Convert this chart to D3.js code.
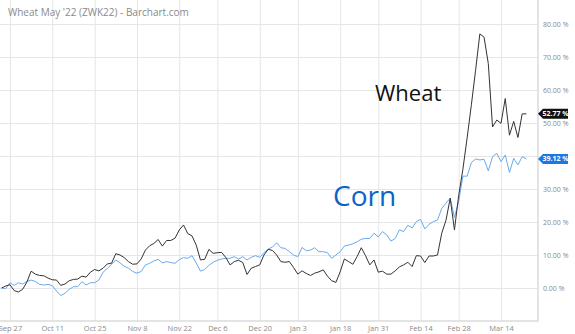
<!DOCTYPE html>
<html>
<head>
<meta charset="utf-8">
<script src="https://cdn.jsdelivr.net/npm/d3@7"></script>
<style>
body { margin: 0; background: #fff; }
svg { display: block; font-family: "Open Sans", sans-serif; }
</style>
</head>
<body>
<script>
var width = 575, height = 334;

// % change since Sep 23, one value per trading day
var wheat = [
  0, 0.6, 1.0, -0.8, -1.2, -0.4, 1.8, 5.1, 4.2, 3.8,
  3.7, 3.0, 2.5, 2.4, 0.8, 1.2, 2.2, 2.6, 2.7, 3.6,
  3.3, 4.8, 5.6, 5.2, 6.0, 7.3, 7.5, 10.4, 10.0, 9.2,
  8.0, 7.2, 7.3, 8.8, 11.5, 12.8, 13.5, 14.7, 12.7, 14.4,
  14.4, 15.1, 17.6, 19.1, 16.5, 15.8, 13.0, 8.5, 8.7, 11.7,
  10.5, 10.7, 10.8, 9.2, 7.0, 8.0, 8.4, 7.7, 4.1, 6.0,
  6.5, 7.0, 10.0, 11.7, 11.4, 10.0, 8.0, 7.8, 8.0, 6.2,
  4.2, 5.2, 4.4, 3.8, 4.5, 4.9, 5.5, 3.6, 2.2, 1.7,
  4.9, 8.8, 8.0, 7.2, 9.5, 12.2, 9.8, 7.0, 8.5, 4.8,
  5.1, 4.2, 4.2, 5.2, 6.4, 7.0, 7.8, 6.5, 9.8, 9.7,
  7.7, 9.7, 9.7, 10.0, 16.6, 20.5, 27.2, 17.6, 28.0, 36.0,
  45.5, 55.5, 66.0, 77.0, 76.0, 68.0, 48.8, 50.9, 49.9, 57.4,
  46.3, 50.5, 45.6, 52.77, 52.77
];
var corn = [
  0, -0.2, 1.6, 0.8, 1.6, 1.2, 2.0, 2.4, 2.0, 1.1,
  0.9, 1.1, 0.7, -0.9, -2.3, -1.6, -0.4, 0.4, 0.4, 1.9,
  0.9, 1.6, 1.6, 2.4, 4.8, 5.9, 7.2, 8.5, 7.6, 6.6,
  6.0, 5.0, 4.5, 5.0, 7.0, 7.5, 8.2, 8.7, 7.6, 8.0,
  7.7, 7.5, 8.6, 9.2, 9.0, 9.8, 7.6, 5.1, 5.6, 6.9,
  7.8, 8.4, 8.8, 9.0, 9.0, 9.5, 8.8, 9.5, 8.5, 9.3,
  9.8, 9.3, 10.7, 11.8, 12.4, 13.7, 12.2, 12.0, 11.0, 10.0,
  9.5, 12.3, 11.3, 11.5, 12.2, 11.0, 11.0, 10.7, 9.0, 10.0,
  11.0, 12.7, 13.0, 13.4, 14.0, 14.8, 15.0, 15.0, 16.6, 15.5,
  17.1, 16.1, 14.2, 15.0, 17.6, 17.1, 19.0, 18.2, 20.1, 20.8,
  17.9, 19.3, 20.1, 20.6, 24.1, 25.7, 27.2, 21.4, 26.2, 33.9,
  33.9, 38.0, 39.1, 38.8, 39.0, 35.5, 39.8, 40.8, 38.3, 40.3,
  35.0, 39.3, 37.3, 39.8, 39.12
];
var dateLabels = ["Sep 27", "Oct 11", "Oct 25", "Nov 8", "Nov 22", "Dec 6", "Dec 20",
                  "Jan 3", "Jan 18", "Jan 31", "Feb 14", "Feb 28", "Mar 14"];
var dateIndex = [2, 12, 22, 32, 42, 51, 61, 70, 80, 89, 99, 108, 118];
var yTicks = [0, 10, 20, 30, 40, 50, 60, 70, 80];

var plotRight = 538, plotBottom = 321;

var svg = d3.select("body")
    .append("svg")
    .attr("width", width)
    .attr("height", height);

var x = d3.scaleLinear().domain([0, wheat.length - 1]).range([1.5, 526.4]);
var y = d3.scaleLinear().domain([0, 80]).range([288, 24]);

var lastWheat = wheat[wheat.length - 1];
var lastCorn = corn[corn.length - 1];

// grid
var gx = svg.append("g")
    .attr("transform", `translate(0,${plotBottom})`)
    .call(d3.axisBottom(x)
        .tickValues(dateIndex)
        .tickSize(-plotBottom)
        .tickPadding(5)
        .tickFormat((d, i) => dateLabels[i]));
gx.select(".domain").remove();
gx.selectAll("line").attr("stroke", "#e6e6e6");
gx.selectAll("text").attr("fill", "#8a8a8a").style("font-size", "7.5px").style("font-family", "Open Sans");

var gy = svg.append("g")
    .attr("transform", `translate(${plotRight},0)`)
    .call(d3.axisRight(y)
        .tickValues(yTicks)
        .tickSize(-plotRight)
        .tickPadding(5)
        .tickFormat(d => d.toFixed(2) + " %"));
gy.select(".domain").remove();
gy.selectAll("line").attr("stroke", "#e6e6e6");
gy.selectAll("text").attr("fill", "#8a8a8a").style("font-size", "7px").style("font-family", "Open Sans");
// labels hidden behind the last-value badges
gy.selectAll(".tick")
    .filter(d => Math.abs(y(d) - y(lastWheat)) < 7 || Math.abs(y(d) - y(lastCorn)) < 7)
    .select("text").remove();

// frame
svg.append("path")
    .attr("d", `M${plotRight},0V${plotBottom}H0`)
    .attr("fill", "none")
    .attr("stroke", "#dcdcdc")
    .attr("stroke-width", 1.5);

var line = d3.line()
    .x((d, i) => x(i))
    .y(d => y(d));

svg.append("path")
    .datum(corn)
    .attr("d", line)
    .attr("fill", "none")
    .attr("stroke", "#6aaaee")
    .attr("stroke-width", 1);

svg.append("path")
    .datum(wheat)
    .attr("d", line)
    .attr("fill", "none")
    .attr("stroke", "#333")
    .attr("stroke-width", 1);

// last value badges
function badge(v, color) {
    var yy = y(v);
    svg.append("path")
        .attr("d", `M${plotRight},${yy}L${plotRight + 5},${yy - 5}H568V${yy + 5}H${plotRight + 5}Z`)
        .attr("fill", color);
    svg.append("text")
        .attr("x", 555.5)
        .attr("y", yy + 2.5)
        .attr("text-anchor", "middle")
        .attr("fill", "#fff")
        .style("font-size", "7px")
        .style("font-weight", "bold")
        .text(v.toFixed(2) + " %");
}
badge(lastWheat, "#111");
badge(lastCorn, "#1f78e0");

svg.append("text")
    .attr("x", 8)
    .attr("y", 16)
    .attr("fill", "#8a8a8a")
    .style("font-size", "10px")
    .text("Wheat May '22 (ZWK22) - Barchart.com");

svg.append("text")
    .attr("x", 375)
    .attr("y", 101)
    .attr("fill", "#111")
    .style("font-size", "22px")
    .text("Wheat");

svg.append("text")
    .attr("x", 333)
    .attr("y", 206)
    .attr("fill", "#0a64c8")
    .style("font-size", "28px")
    .text("Corn");
</script>
</body>
</html>
